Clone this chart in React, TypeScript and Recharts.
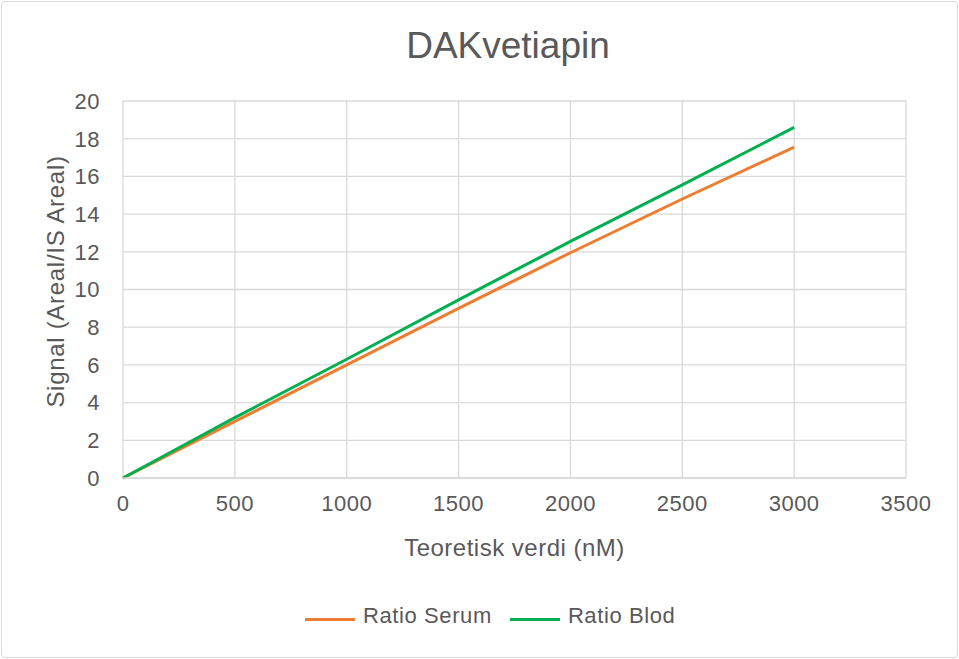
import { LineChart, Line, XAxis, YAxis, CartesianGrid } from 'recharts';

// Teoretisk konsentrasjon (nM)
const concentrations = [0, 500, 1000, 1500, 2000, 2500, 3000];
// Signal (Areal/IS Areal)
const ratioSerum = [0, 3.0, 6.0, 9.0, 11.95, 14.8, 17.55];
const ratioBlod = [0, 3.2, 6.3, 9.45, 12.55, 15.55, 18.6];

const xTicks = [0, 500, 1000, 1500, 2000, 2500, 3000, 3500];
const yTicks = [0, 2, 4, 6, 8, 10, 12, 14, 16, 18, 20];

const series = [
  { key: 'serum', name: 'Ratio Serum', color: '#ED7D31' },
  { key: 'blod', name: 'Ratio Blod', color: '#00B050' },
];

const rows = concentrations.map((x, i) => ({
  x,
  serum: ratioSerum[i],
  blod: ratioBlod[i],
}));

const FONT = '"Liberation Sans", Arial, Helvetica, sans-serif';
const TEXT = '#595959';
const GRID = '#d9d9d9';

function YTitle(props: any) {
  const vb = props.viewBox || {};
  const cx = 55;
  const cy = vb.y + vb.height / 2 - 8;
  return (
    <text
      x={cx}
      y={cy}
      transform={`rotate(-90 ${cx} ${cy})`}
      textAnchor="middle"
      dominantBaseline="central"
      fill={TEXT}
      fontSize={24}
      letterSpacing={0.7}
      fontFamily={FONT}
    >
      Signal (Areal/IS Areal)
    </text>
  );
}

export default function App() {
  return (
    <div style={{ position: 'relative', width: 959, height: 659, background: '#fff', fontFamily: FONT }}>
      <style>{`body{margin:0}`}</style>
      <div
        style={{
          position: 'absolute',
          left: 1,
          top: 1,
          width: 957,
          height: 657,
          boxSizing: 'border-box',
          border: `1px solid ${GRID}`,
          borderRadius: 4,
        }}
      />
      <div
        style={{
          position: 'absolute',
          left: 208,
          top: 27,
          width: 600,
          textAlign: 'center',
          fontSize: 37,
          lineHeight: '37px',
          color: TEXT,
        }}
      >
        DAKvetiapin
      </div>
      <LineChart
        width={959}
        height={659}
        data={rows}
        margin={{ top: 101, right: 53, bottom: 151, left: 43 }}
        style={{ position: 'absolute', left: 0, top: 0 }}
      >
        <CartesianGrid stroke={GRID} strokeWidth={1.3} />
        <XAxis
          dataKey="x"
          type="number"
          domain={[0, 3500]}
          ticks={xTicks}
          interval={0}
          axisLine={{ stroke: GRID, strokeWidth: 1.3 }}
          tickLine={false}
          tickMargin={11}
          tick={{ fill: TEXT, fontSize: 22, fontFamily: FONT, letterSpacing: 0.5 }}
          label={{
            value: 'Teoretisk verdi (nM)',
            position: 'bottom',
            offset: 31,
            fill: TEXT,
            fontSize: 24,
            fontFamily: FONT,
            letterSpacing: 0.5,
          }}
        />
        <YAxis
          type="number"
          domain={[0, 20]}
          ticks={yTicks}
          interval={0}
          width={80}
          axisLine={false}
          tickLine={false}
          tickMargin={17}
          tick={{ fill: TEXT, fontSize: 22, fontFamily: FONT, letterSpacing: 0.5 }}
          label={{ content: YTitle }}
        />
        {series.map((s) => (
          <Line
            key={s.key}
            type="linear"
            dataKey={s.key}
            name={s.name}
            stroke={s.color}
            strokeWidth={3}
            dot={false}
            isAnimationActive={false}
          />
        ))}
      </LineChart>
      <div
        style={{
          position: 'absolute',
          left: 305,
          top: 603,
          display: 'flex',
          alignItems: 'center',
          gap: 18,
          fontSize: 22,
          letterSpacing: 0.6,
          color: TEXT,
          lineHeight: '26px',
        }}
      >
        {series.map((s) => (
          <div key={s.key} style={{ display: 'flex', alignItems: 'center', gap: 8 }}>
            <div style={{ width: 50, height: 3, background: s.color, marginTop: 6 }} />
            <span>{s.name}</span>
          </div>
        ))}
      </div>
    </div>
  );
}
